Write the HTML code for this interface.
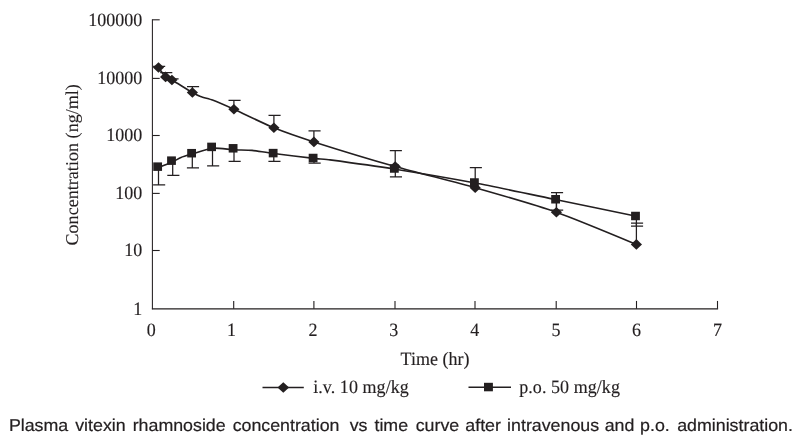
<!DOCTYPE html><html><head><meta charset="utf-8"><title>Plasma vitexin rhamnoside concentration vs time</title>
<style>html,body{margin:0;padding:0;background:#fff}body{width:800px;height:443px;overflow:hidden;position:relative}svg{position:absolute;left:0;top:0;display:block}text{fill:#231f20;text-rendering:geometricPrecision}.s{font-family:"Liberation Serif","Times New Roman",serif;font-size:18.0px;stroke:#231f20;stroke-width:0.14px}.c{font-family:"Liberation Sans",Arial,sans-serif;font-size:17.2px;stroke:#231f20;stroke-width:0.22px}</style></head><body>
<svg width="800" height="443" viewBox="0 0 800 443">
<rect width="800" height="443" fill="#fff"/>
<g stroke="#231f20" stroke-width="1.1" fill="none">
<path stroke-width="1.05" d="M152.40 19.20 V309.35"/>
<path stroke-width="1.25" d="M151.90 308.75 H718.10"/>
<path d="M152.40 19.80 h7.3"/>
<path d="M152.40 78.40 h7.3"/>
<path d="M152.40 135.50 h7.3"/>
<path d="M152.40 193.40 h7.3"/>
<path d="M152.40 250.50 h7.3"/>
<path d="M233.70 308.75 v-7.8"/>
<path d="M313.90 308.75 v-7.8"/>
<path d="M395.00 308.75 v-7.8"/>
<path d="M475.00 308.75 v-7.8"/>
<path d="M556.20 308.75 v-7.8"/>
<path d="M636.50 308.75 v-7.8"/>
<path d="M717.50 308.75 v-7.8"/>
</g>
<g stroke="#231f20" stroke-width="1.25" fill="none">
<path d="M158.50 67.50 V66.30 M153.10 66.30 H165.20"/>
<path d="M165.60 76.90 V72.50 M160.20 72.50 H172.30"/>
<path d="M171.90 80.00 V78.75 M166.50 78.75 H178.60"/>
<path d="M192.40 92.50 V86.50 M187.00 86.50 H199.10"/>
<path d="M233.90 109.30 V100.30 M228.50 100.30 H240.60"/>
<path d="M273.90 127.80 V115.40 M268.50 115.40 H280.60"/>
<path d="M313.90 141.90 V130.80 M308.50 130.80 H320.60"/>
<path d="M395.20 166.50 V150.70 M389.80 150.70 H401.90"/>
<path d="M475.20 187.70 V167.70 M469.80 167.70 H481.90"/>
<path d="M556.40 212.20 V192.50 M551.00 192.50 H563.10"/>
<path d="M636.40 244.40 V223.00 M631.00 223.00 H643.10"/>
<path d="M158.50 167.60 V184.80 M153.10 184.80 H165.20"/>
<path d="M172.70 161.80 V175.25 M167.30 175.25 H179.40"/>
<path d="M192.30 153.90 V167.75 M186.90 167.75 H199.00"/>
<path d="M212.50 148.20 V165.75 M207.10 165.75 H219.20"/>
<path d="M234.00 149.80 V161.25 M228.60 161.25 H240.70"/>
<path d="M273.80 153.50 V161.40 M268.40 161.40 H280.50"/>
<path d="M314.00 158.40 V163.00 M308.60 163.00 H320.70"/>
<path d="M395.30 169.20 V176.80 M389.90 176.80 H402.00"/>
<path d="M556.50 199.70 V210.00 M551.10 210.00 H563.20"/>
<path d="M636.40 216.30 V226.10 M631.00 226.10 H643.10"/>
</g>
<g stroke="#231f20" stroke-width="1.6" fill="none" stroke-linejoin="round">
<path d="M158.50 67.50 C158.50 67.50 163.75 75.18 165.60 76.90 C166.70 77.93 170.57 79.22 171.90 80.00 C176.46 82.66 187.83 89.86 192.40 92.50 C194.12 93.49 198.65 95.80 200.50 96.50 C203.07 97.47 209.93 99.12 212.50 100.10 C217.28 101.93 229.23 107.19 233.90 109.30 C242.74 113.29 264.93 124.15 273.90 127.80 C282.53 131.32 305.01 139.06 313.90 141.90 C331.70 147.58 377.23 161.40 395.20 166.50 C412.71 171.47 457.69 182.73 475.20 187.70 C493.15 192.79 538.82 206.01 556.40 212.20 C574.28 218.49 636.40 244.40 636.40 244.40"/>
<path d="M158.50 167.60 C158.50 167.60 169.63 163.19 172.70 161.80 C174.58 160.95 179.09 158.17 181.00 157.40 C183.40 156.43 189.80 154.63 192.30 153.90 C196.73 152.61 207.97 148.64 212.50 148.20 C217.15 147.74 229.27 149.54 234.00 149.80 C237.96 150.02 248.06 150.03 252.00 150.40 C256.82 150.85 269.00 152.88 273.80 153.50 C282.64 154.64 305.15 157.39 314.00 158.40 C317.51 158.80 326.50 159.43 330.00 159.90 C344.38 161.81 380.97 166.92 395.30 169.20 C412.94 172.00 457.75 179.68 475.30 183.00 C493.22 186.39 538.64 196.01 556.50 199.70 C574.08 203.33 636.40 216.30 636.40 216.30"/>
</g>
<g fill="#231f20">
<path d="M158.50 62.20 l5.6 5.3 l-5.6 5.3 l-5.6 -5.3z"/>
<path d="M165.60 71.60 l5.6 5.3 l-5.6 5.3 l-5.6 -5.3z"/>
<path d="M171.90 74.70 l5.6 5.3 l-5.6 5.3 l-5.6 -5.3z"/>
<path d="M192.40 87.20 l5.6 5.3 l-5.6 5.3 l-5.6 -5.3z"/>
<path d="M233.90 104.00 l5.6 5.3 l-5.6 5.3 l-5.6 -5.3z"/>
<path d="M273.90 122.50 l5.6 5.3 l-5.6 5.3 l-5.6 -5.3z"/>
<path d="M313.90 136.60 l5.6 5.3 l-5.6 5.3 l-5.6 -5.3z"/>
<path d="M395.20 161.20 l5.6 5.3 l-5.6 5.3 l-5.6 -5.3z"/>
<path d="M475.20 182.40 l5.6 5.3 l-5.6 5.3 l-5.6 -5.3z"/>
<path d="M556.40 206.90 l5.6 5.3 l-5.6 5.3 l-5.6 -5.3z"/>
<path d="M636.40 239.10 l5.6 5.3 l-5.6 5.3 l-5.6 -5.3z"/>
<rect x="153.25" y="162.40" width="8.8" height="8.5"/>
<rect x="167.10" y="156.40" width="8.8" height="8.5"/>
<rect x="187.20" y="148.95" width="8.8" height="8.5"/>
<rect x="207.20" y="142.65" width="8.8" height="8.5"/>
<rect x="228.70" y="144.05" width="8.8" height="8.5"/>
<rect x="268.75" y="148.85" width="8.8" height="8.5"/>
<rect x="308.70" y="153.75" width="8.8" height="8.5"/>
<rect x="389.95" y="164.25" width="8.8" height="8.5"/>
<rect x="470.00" y="178.25" width="8.8" height="8.5"/>
<rect x="551.20" y="195.00" width="8.8" height="8.5"/>
<rect x="631.10" y="211.75" width="8.8" height="8.5"/>
</g>
<g class="s">
<text transform="translate(142.3 25.60) scale(1 1.045)" text-anchor="end">100000</text>
<text transform="translate(142.3 84.20) scale(1 1.045)" text-anchor="end">10000</text>
<text transform="translate(142.3 141.30) scale(1 1.045)" text-anchor="end">1000</text>
<text transform="translate(142.3 199.20) scale(1 1.045)" text-anchor="end">100</text>
<text transform="translate(142.3 256.30) scale(1 1.045)" text-anchor="end">10</text>
<text transform="translate(142.3 314.80) scale(1 1.045)" text-anchor="end">1</text>
<text transform="translate(151.20 335.6) scale(1 1.045)" text-anchor="middle">0</text>
<text transform="translate(231.50 335.6) scale(1 1.045)" text-anchor="middle">1</text>
<text transform="translate(313.00 335.6) scale(1 1.045)" text-anchor="middle">2</text>
<text transform="translate(393.70 335.6) scale(1 1.045)" text-anchor="middle">3</text>
<text transform="translate(474.70 335.6) scale(1 1.045)" text-anchor="middle">4</text>
<text transform="translate(555.90 335.6) scale(1 1.045)" text-anchor="middle">5</text>
<text transform="translate(636.60 335.6) scale(1 1.045)" text-anchor="middle">6</text>
<text transform="translate(717.60 335.6) scale(1 1.045)" text-anchor="middle">7</text>
<text transform="translate(400.6 364.5) scale(1 1.045)">Time (hr)</text>
<text transform="translate(78.0 245.5) rotate(-90) scale(1 1.0)" style="letter-spacing:0.045px">Concentration (ng/ml)</text>
<text transform="translate(313.2 392.5) scale(1 1.045)" style="letter-spacing:0.06px">i.v. 10 mg/kg</text>
<text transform="translate(519.2 392.7) scale(1 1.045)" style="letter-spacing:0.06px">p.o. 50 mg/kg</text>
</g>
<g stroke="#231f20" stroke-width="1.55"><path d="M262.5 387.4 H303.8"/><path d="M468.5 387.3 H511"/></g>
<path fill="#231f20" d="M283.3 382.2 l5.8 5.3 l-5.8 5.3 l-5.8 -5.3z"/>
<rect fill="#231f20" x="484" y="382.8" width="8.9" height="8.5"/>
<text class="c" transform="translate(8.9 431.2) scale(1.035 1)" style="word-spacing:2.0px">Plasma vitexin rhamnoside concentration <tspan dx="3.1">vs</tspan> time <tspan dx="0.6">curve</tspan> <tspan dx="-0.9">after</tspan> <tspan dx="-0.8">intravenous</tspan> <tspan dx="-1.4">and</tspan> <tspan dx="-1.2">p.o.</tspan> <tspan dx="0.4">administration.</tspan></text>
</svg></body></html>
